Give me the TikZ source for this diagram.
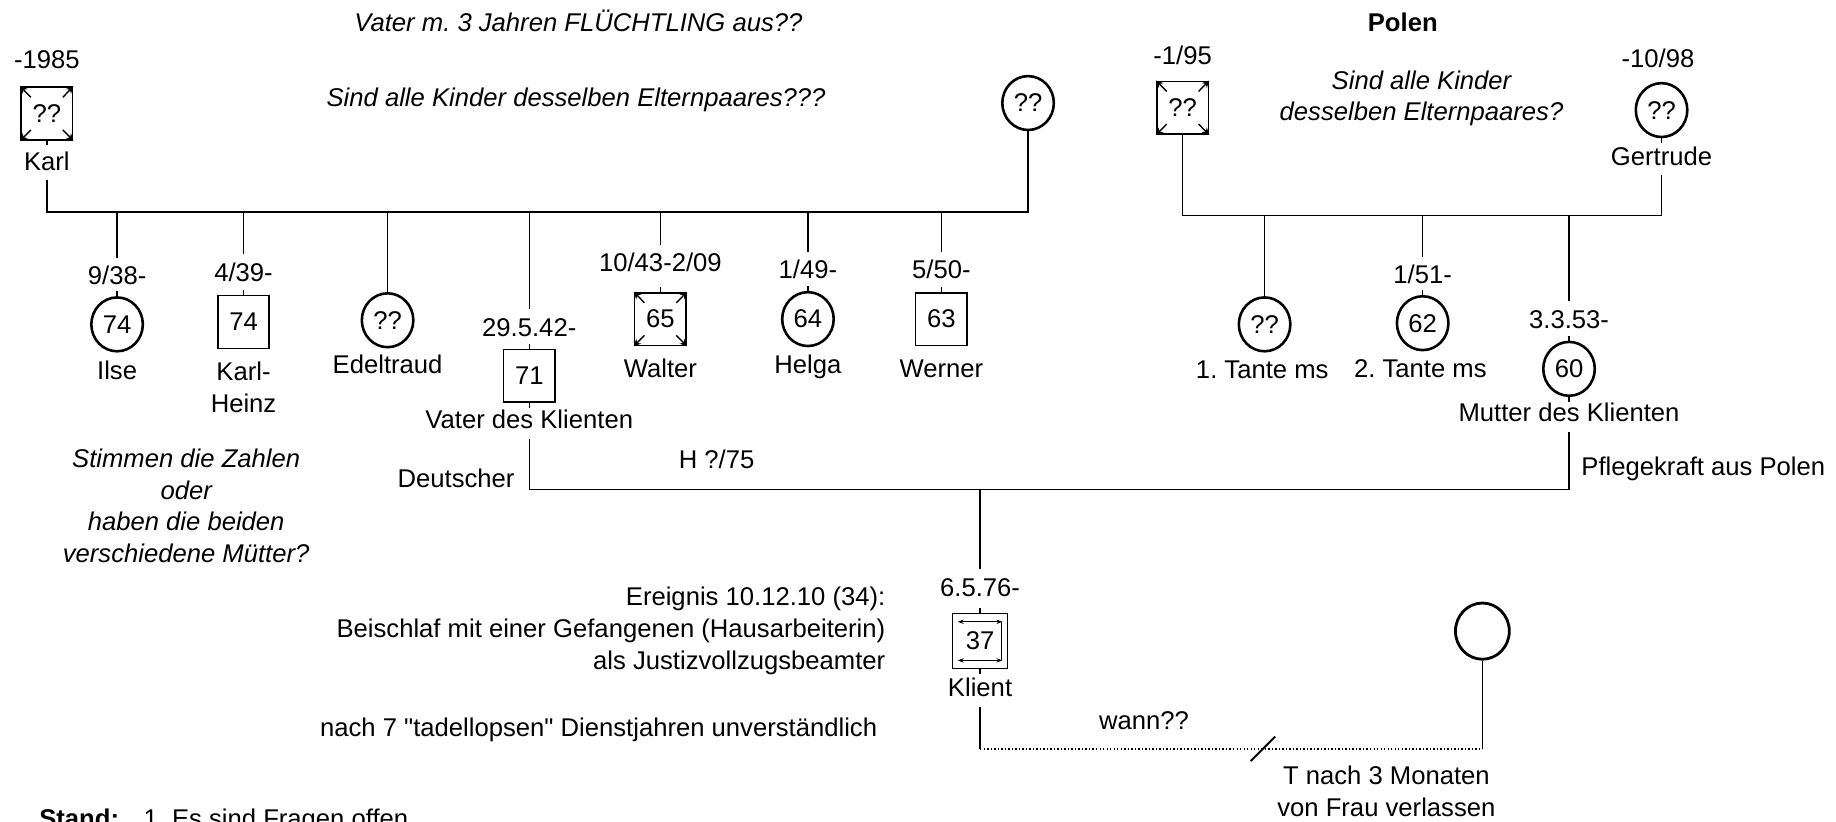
\documentclass[tikz,border=0pt,11pt]{standalone}
\usepackage{fontspec}
\setmainfont{Liberation Sans}
\frenchspacing
\usetikzlibrary{shapes.geometric, arrows.meta, calc}
\tikzset{
    mann/.style={draw, rectangle, line width=0.7pt, minimum width=22pt, minimum height=22.5pt, inner sep=0pt},
    frau/.style={draw, ellipse, line width=1.1pt, minimum width=22pt, minimum height=23pt, inner sep=0pt},
    lbl/.style={inner sep=2.5pt, text height=1.5ex, text depth=.25ex},
    frage/.style={font=\itshape, align=center},
    linie/.style={line width=0.6pt},
    ecke/.style={-{Stealth[length=3pt, width=3pt]}, line width=0.6pt}
}

\begin{document}
\begin{tikzpicture}[x=0.5pt, y=-0.5pt, linie]
    \useasboundingbox (0,0) rectangle (1568,702);
    \clip (0,0) rectangle (1568,702);

    % Familie des Vaters
    \node[frage] (flucht) at (494,18) {Vater m. 3 Jahren FLÜCHTLING aus??};
    \node[frage] (eltern1) at (492,85) {Sind alle Kinder desselben Elternpaares???};
    \node[lbl] (karl-d) at (40,51) {-1985};
    \node[mann] (karl) at (40,97) {??};
    \node[lbl] (karl-n) at (40,138) {Karl};
    \node[frau] (oma) at (878,88) {??};
    \coordinate (geschw1) at (0,181);
    \draw (karl-n) -- (karl-n |- geschw1) -| (oma);

    \node[lbl] (ilse-d) at (100,236) {9/38-};
    \node[frau] (ilse) at (100,277) {74};
    \node[lbl] (ilse-n) at (100,317) {Ilse};
    \node[lbl] (kheinz-d) at (208,233) {4/39-};
    \node[mann] (kheinz) at (208,275) {74};
    \node[align=center, inner sep=2.5pt] (kheinz-n) at (208,331) {Karl-\\Heinz};
    \node[frau] (edel) at (331,273.5) {??};
    \node[lbl] (edel-n) at (331,312) {Edeltraud};
    \node[lbl] (vater-d) at (452,280) {29.5.42-};
    \node[mann] (vater) at (452,321) {71};
    \node[lbl] (vater-n) at (452,359) {Vater des Klienten};
    \node[lbl] (walter-d) at (564,225) {10/43-2/09};
    \node[mann] (walter) at (564,272.5) {65};
    \node[lbl] (walter-n) at (564,315) {Walter};
    \node[lbl] (helga-d) at (690,231) {1/49-};
    \node[frau] (helga) at (690,272.5) {64};
    \node[lbl] (helga-n) at (690,312) {Helga};
    \node[lbl] (werner-d) at (804,231) {5/50-};
    \node[mann] (werner) at (804,272.5) {63};
    \node[lbl] (werner-n) at (804,315) {Werner};
    \draw (ilse-d |- geschw1) -- (ilse-d) (kheinz-d |- geschw1) -- (kheinz-d)
          (edel |- geschw1) -- (edel) (vater-d |- geschw1) -- (vater-d)
          (walter-d |- geschw1) -- (walter-d) (helga-d |- geschw1) -- (helga-d)
          (werner-d |- geschw1) -- (werner-d);
    \node[frage] (zahlen) at (159,432) {Stimmen die Zahlen\\oder\\haben die beiden\\verschiedene Mütter?};

    % Familie der Mutter
    \node[font=\bfseries] (polen) at (1198,19) {Polen};
    \node[frage] (eltern2) at (1214,84) {Sind alle Kinder\\desselben Elternpaares?};
    \node[lbl] (opa2-d) at (1010,48) {-1/95};
    \node[mann] (opa2) at (1010,92) {??};
    \node[lbl] (gertrude-d) at (1416,50) {-10/98};
    \node[frau] (gertrude) at (1419,94) {??};
    \node[lbl] (gertrude-n) at (1419,134) {Gertrude};
    \coordinate (geschw2) at (0,184);
    \draw (opa2) -- (opa2 |- geschw2) -| (gertrude-n);

    \node[frau] (tante1) at (1080,277) {??};
    \node[lbl] (tante1-n) at (1078,316) {1. Tante ms};
    \node[lbl] (tante2-d) at (1215,235) {1/51-};
    \node[frau] (tante2) at (1215,276) {62};
    \node[lbl] (tante2-n) at (1213,315) {2. Tante ms};
    \node[lbl] (mutter-d) at (1340,273) {3.3.53-};
    \node[frau] (mutter) at (1340,315) {60};
    \node[lbl] (mutter-n) at (1340,353) {Mutter des Klienten};
    \draw (tante1 |- geschw2) -- (tante1) (tante2-d |- geschw2) -- (tante2-d)
          (mutter-d |- geschw2) -- (mutter-d);

    % Eltern und Klient
    \coordinate (ehe) at (0,418);
    \draw (vater-n) -- (vater-n |- ehe) -| (mutter-n);
    \node[lbl, anchor=east] (deutsch) at (445,409) {Deutscher};
    \node[lbl] (heirat) at (612,393) {H ?/75};
    \node[lbl, anchor=west] (pflege) at (1345,399) {Pflegekraft aus Polen};

    \node[lbl] (klient-d) at (837,502) {6.5.76-};
    \node[mann, minimum width=23.5pt, minimum height=23.5pt] (klient) at (837,547.5) {37};
    \node[lbl] (klient-n) at (837,588) {Klient};
    \draw (klient-d |- ehe) -- (klient-d);
    \draw[{Stealth[length=2.5pt]}-{Stealth[length=2.5pt]}] ($(klient)+(-19,-16.5)$) -- ($(klient)+(19,-16.5)$);
    \draw[{Stealth[length=2.5pt]}-{Stealth[length=2.5pt]}] ($(klient)+(-19,16.5)$) -- ($(klient)+(19,16.5)$);
    \draw ($(klient)+(18.5,-16.5)$) -- ($(klient)+(18.5,16.5)$);

    \node[frau, line width=1.2pt, minimum width=23pt, minimum height=24pt] (ehefrau) at (1266,539) {};
    \coordinate (bez) at (0,640);
    \draw (klient-n) -- (klient-n |- bez) coordinate (b1);
    \draw (ehefrau) -- (ehefrau |- bez) coordinate (b2);
    \draw[line width=0.8pt, dash pattern=on 0.6pt off 0.9pt] (b1) -- (b2);
    \draw[line width=0.8pt] ($(b1)!0.562!(b2)$) ++(-10,10) -- ++(21,-21);
    \node[lbl] (wann) at (977,616) {wann??};
    \node[align=center] (verlassen) at (1184,675.5) {T nach 3 Monaten\\von Frau verlassen};

    \node[align=right, anchor=east] (ereignis) at (764,539) {Ereignis 10.12.10 (34):\\Beischlaf mit einer Gefangenen (Hausarbeiterin)\\als Justizvollzugsbeamter};
    \node[anchor=east] (dienst) at (757,623) {nach 7 \textquotedbl tadellopsen\textquotedbl{} Dienstjahren unverständlich};

    \node[anchor=base west, inner sep=0pt, font=\bfseries] (stand) at (33,707) {Stand:};
    \node[anchor=base west, inner sep=0pt] (stand-t) at (122,707) {1. Es sind Fragen offen};

    % Striche an den Symbolen
    \draw (ilse.north) -- ++(0,-4) (kheinz.north) -- ++(0,-4) (vater.north) -- ++(0,-4)
          (walter.north) -- ++(0,-4) (helga.north) -- ++(0,-4) (werner.north) -- ++(0,-4)
          (tante2.north) -- ++(0,-4) (mutter.north) -- ++(0,-4) (klient.north) -- ++(0,-4);
    \draw (karl.south) -- ++(0,4) (vater.south) -- ++(0,4) (gertrude.south) -- ++(0,4)
          (mutter.south) -- ++(0,4) (klient.south) -- ++(0,4);
    \draw[ecke] ($(karl)!.6!(karl.north east)$) -- (karl.north east);
    \draw[ecke] ($(karl)!.6!(karl.north west)$) -- (karl.north west);
    \draw[ecke] ($(karl)!.6!(karl.south east)$) -- (karl.south east);
    \draw[ecke] ($(karl)!.6!(karl.south west)$) -- (karl.south west);
    \draw[ecke] ($(opa2)!.6!(opa2.north east)$) -- (opa2.north east);
    \draw[ecke] ($(opa2)!.6!(opa2.north west)$) -- (opa2.north west);
    \draw[ecke] ($(opa2)!.6!(opa2.south east)$) -- (opa2.south east);
    \draw[ecke] ($(opa2)!.6!(opa2.south west)$) -- (opa2.south west);
    \draw[ecke] ($(walter)!.6!(walter.north east)$) -- (walter.north east);
    \draw[ecke] ($(walter)!.6!(walter.north west)$) -- (walter.north west);
    \draw[ecke] ($(walter)!.6!(walter.south east)$) -- (walter.south east);
    \draw[ecke] ($(walter)!.6!(walter.south west)$) -- (walter.south west);
\end{tikzpicture}
\end{document}
